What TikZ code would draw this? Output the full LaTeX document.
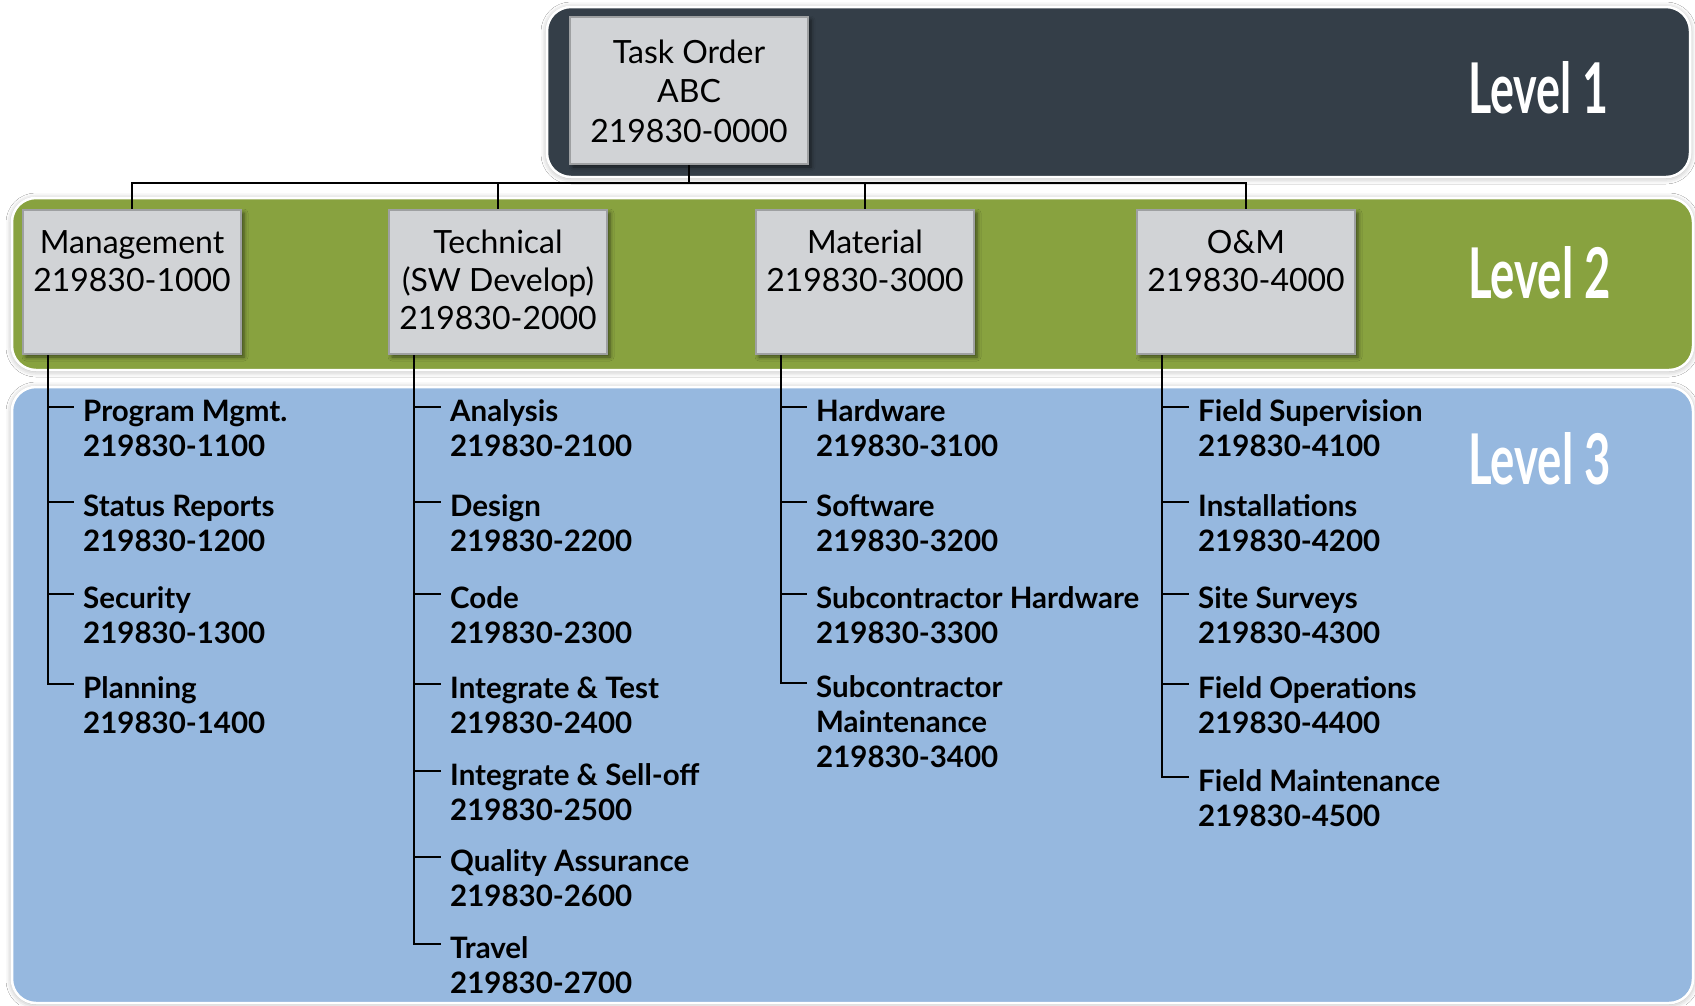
\documentclass[tikz,border=0pt]{standalone}
\usepackage{fontspec}
\setmainfont{Lato}
\usetikzlibrary{shadows.blur}

\definecolor{bandone}{RGB}{52,62,72}
\definecolor{bandtwo}{RGB}{136,162,63}
\definecolor{bandthree}{RGB}{150,184,223}
\definecolor{boxfill}{RGB}{209,211,214}
\definecolor{boxline}{RGB}{158,160,162}

% stacked lines whose baseline is the first line
\newcommand\itemlines[1]{\begin{tabular}[t]{@{}l@{}}#1\end{tabular}}
\newcommand\boxlines[1]{\begin{tabular}[t]{@{}c@{}}#1\end{tabular}}

\tikzset{
  band/.style={draw=white, line width=2.5pt, rounded corners=24pt,
    blur shadow={shadow xshift=0pt, shadow yshift=-1pt,
      shadow blur radius=6pt, shadow opacity=35}},
  wbs/.style={draw=boxline, fill=boxfill, line width=2pt, inner sep=0pt,
    blur shadow={shadow xshift=3pt, shadow yshift=-3pt,
      shadow blur radius=4pt, shadow opacity=55}},
  boxtext/.style={anchor=base, inner sep=0pt},
  item/.style={anchor=base west, inner sep=0pt,
    font=\fontsize{29.5}{35}\selectfont\bfseries},
  lvl/.style={anchor=base west, inner sep=0pt, text=white,
    font=\fontsize{70}{70}\selectfont\bfseries},
  conn/.style={draw=black, line width=2.6pt},
}

\begin{document}
\begin{tikzpicture}[x=1pt, y=-1pt]
\useasboundingbox (0,0) rectangle (1695,1005);
\fill[white] (0,0) rectangle (1695,1005);

% level bands
\fill[bandthree, band] (12,387) rectangle (1693,1003);
\fill[bandtwo, band] (12,198) rectangle (1693,370);
\fill[bandone, band] (547,7) rectangle (1690,177);

\node[lvl] (lv1) at (1468,113) {\scalebox{0.64}[1]{Level 1}};
\node[lvl] (lv2) at (1468,298) {\scalebox{0.65}[1]{Level 2}};
\node[lvl] (lv3) at (1468,484) {\scalebox{0.65}[1]{Level 3}};

% level 1 box
\node[wbs, minimum width=238pt, minimum height=147pt] (task) at (689,90.5) {};
\node[boxtext, font=\fontsize{32}{39.5}\selectfont] (taskt) at (689,63)
  {\boxlines{Task Order\\ABC\\219830-0000}};

% level 2 boxes
\node[wbs, minimum width=218pt, minimum height=144pt] (mgmt) at (132,282) {};
\node[wbs, minimum width=218pt, minimum height=144pt] (tech) at (498,282) {};
\node[wbs, minimum width=218pt, minimum height=144pt] (matl) at (865,282) {};
\node[wbs, minimum width=218pt, minimum height=144pt] (onm) at (1246,282) {};
\begin{scope}[every node/.style={font=\fontsize{32}{38}\selectfont}]
\node[boxtext] (mgmtt) at (132,253) {\boxlines{Management\\219830-1000}};
\node[boxtext] (techt) at (498,253) {\boxlines{Technical\\(SW Develop)\\219830-2000}};
\node[boxtext] (matlt) at (865,253) {\boxlines{Material\\219830-3000}};
\node[boxtext] (onmt) at (1246,253) {\boxlines{O\&M\\219830-4000}};
\end{scope}

% top-level tree
\draw[conn] (task.south) -- ++(0,18) -| (mgmt.north);
\draw[conn] (task.south) -- ++(0,18) -| (tech.north);
\draw[conn] (task.south) -- ++(0,18) -| (matl.north);
\draw[conn] (task.south) -- ++(0,18) -| (onm.north);

% level 3 items
\node[item] (m1) at (83,421) {\itemlines{Program Mgmt.\\219830-1100}};
\node[item] (m2) at (83,516) {\itemlines{Status Reports\\219830-1200}};
\node[item] (m3) at (83,608) {\itemlines{Security\\219830-1300}};
\node[item] (m4) at (83,698) {\itemlines{Planning\\219830-1400}};

\node[item] (t1) at (450,421) {\itemlines{Analysis\\219830-2100}};
\node[item] (t2) at (450,516) {\itemlines{Design\\219830-2200}};
\node[item] (t3) at (450,608) {\itemlines{Code\\219830-2300}};
\node[item] (t4) at (450,698) {\itemlines{Integrate \& Test\\219830-2400}};
\node[item] (t5) at (450,785) {\itemlines{Integrate \& Sell-off\\219830-2500}};
\node[item] (t6) at (450,871) {\itemlines{Quality Assurance\\219830-2600}};
\node[item] (t7) at (450,958) {\itemlines{Travel\\219830-2700}};

\node[item] (h1) at (816,421) {\itemlines{Hardware\\219830-3100}};
\node[item] (h2) at (816,516) {\itemlines{Software\\219830-3200}};
\node[item] (h3) at (816,608) {\itemlines{Subcontractor Hardware\\219830-3300}};
\node[item] (h4) at (816,697) {\itemlines{Subcontractor\\Maintenance\\219830-3400}};

\node[item] (f1) at (1198,421) {\itemlines{Field Supervision\\219830-4100}};
\node[item] (f2) at (1198,516) {\itemlines{Installations\\219830-4200}};
\node[item] (f3) at (1198,608) {\itemlines{Site Surveys\\219830-4300}};
\node[item] (f4) at (1198,698) {\itemlines{Field Operations\\219830-4400}};
\node[item] (f5) at (1198,791) {\itemlines{Field Maintenance\\219830-4500}};

% trunks under each level 2 box
\coordinate (mtr) at ([xshift=26pt]mgmt.south west);
\coordinate (ttr) at ([xshift=26pt]tech.south west);
\coordinate (htr) at ([xshift=26pt]matl.south west);
\coordinate (ftr) at ([xshift=26pt]onm.south west);

\foreach \n in {m1,m2,m3,m4,t1,t2,t3,t4,t5,t6,t7,h1,h2,h3,h4,f1,f2,f3,f4,f5}
  \coordinate (\n k) at ([xshift=-9pt,yshift=14pt]\n.base west);

\draw[conn] (mtr) |- (m4k);
\draw[conn] (ttr) |- (t7k);
\draw[conn] (htr) |- (h4k);
\draw[conn] (ftr) |- (f5k);
\foreach \n/\t in {m1/mtr,m2/mtr,m3/mtr,t1/ttr,t2/ttr,t3/ttr,t4/ttr,t5/ttr,t6/ttr,h1/htr,h2/htr,h3/htr,f1/ftr,f2/ftr,f3/ftr,f4/ftr}
  \draw[conn] (\n k -| \t) -- (\n k);
\end{tikzpicture}
\end{document}
